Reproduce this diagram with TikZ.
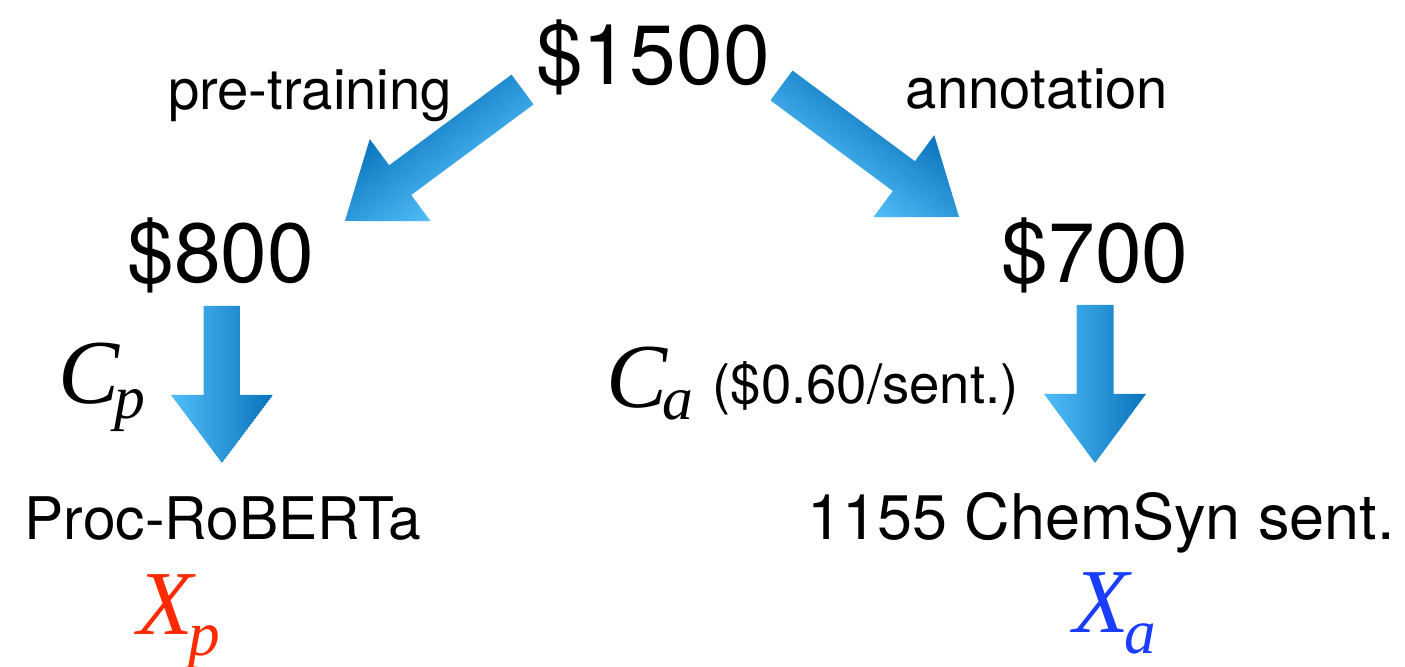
\documentclass[tikz,border=0pt]{standalone}
\usepackage{fontspec}
\setmainfont{TeX Gyre Heros}
\newfontfamily\tms{Liberation Serif}
\definecolor{arrowlight}{HTML}{50BDF8}
\definecolor{arrowdark}{HTML}{0A74BC}
\definecolor{costred}{HTML}{FF2A00}
\definecolor{costblue}{HTML}{1B3DFF}
\tikzset{
  txt/.style={anchor=base, inner sep=0pt, text=black},
  sym/.style={anchor=base west, inner sep=0pt},
  huge/.style={font=\fontsize{23.9}{24}\selectfont},
  lbl/.style={font=\fontsize{16}{16}\selectfont},
  res/.style={font=\fontsize{16.7}{17}\selectfont},
}
% block arrow with a gradient running across its width
% #1 tail coordinate, #2 direction angle, #3 shaft length, #4 total length,
% #5 = 1: light side on +v, 0: dark side on +v
\newcommand\blockarrow[5]{%
  \begin{scope}[shift={(#1)}, rotate=#2]
    \clip (0,-18.5) -- (#3,-18.5) -- (#3,-51) -- (#4,0) -- (#3,51)
          -- (#3,18.5) -- (0,18.5) -- cycle;
    \foreach \i in {0,...,50}{
      \pgfmathtruncatemacro\pct{#5==1 ? 2*\i : 100-2*\i}
      \fill[arrowlight!\pct!arrowdark] (-2,{-51+2*\i}) rectangle (#4+2,{-48.6+2*\i});
    }
  \end{scope}}
\begin{document}
\begin{tikzpicture}[x=0.01cm, y=-0.01cm]
\useasboundingbox (0,0) rectangle (1405,667);

% budget split
\node[txt, huge] (total) at (653,85) {\$1500};
\node[txt, lbl] (pre) at (310,110) {pre-training};
\node[txt, lbl] (ann) at (1037,109) {annotation};
\node[txt, huge] (left) at (221,283) {\$800};
\node[txt, huge] (right) at (1095,283) {\$700};

% outcomes
\node[txt, res] (proc) at (223,540) {Proc-RoBERTa};
\node[txt, font=\fontsize{17.9}{18}\selectfont] (chem) at (1101,540) {1155 ChemSyn sent.};

% cost functions
\node[sym] (cp) at (58,403) {\tms\itshape\fontsize{26}{26}\selectfont C\kern-1.5pt\raisebox{-0.15cm}{\fontsize{17.5}{18}\selectfont p}};
\node[sym] (ca) at (606,408) {\tms\itshape\fontsize{26}{26}\selectfont C\kern-1.5pt\raisebox{-0.11cm}{\fontsize{17.5}{18}\selectfont a}};
\node[sym, font=\fontsize{15.5}{16}\selectfont] (rate) at (712,404) {(\$0.60/sent.)};
\node[sym, text=costred] (xp) at (137,634) {\tms\itshape\fontsize{26}{26}\selectfont X\kern-1.5pt\raisebox{-0.21cm}{\fontsize{18}{18}\selectfont p}};
\node[sym, text=costblue] (xa) at (1073,633) {\tms\itshape\fontsize{26}{26}\selectfont X\kern-1.5pt\raisebox{-0.20cm}{\fontsize{18}{18}\selectfont a}};

% arrow tails
\coordinate (tailPre) at (522.5,89.5);
\coordinate (tailAnn) at (781.5,85.5);
\coordinate (tailLeft) at (222,306);
\coordinate (tailRight) at (1095,305);

\blockarrow{tailPre}{216.53}{152.3}{220.9}{0}
\blockarrow{tailAnn}{-36.53}{152.3}{220.9}{1}
\blockarrow{tailLeft}{270}{89}{157}{1}
\blockarrow{tailRight}{270}{89}{158}{1}
\end{tikzpicture}
\end{document}
